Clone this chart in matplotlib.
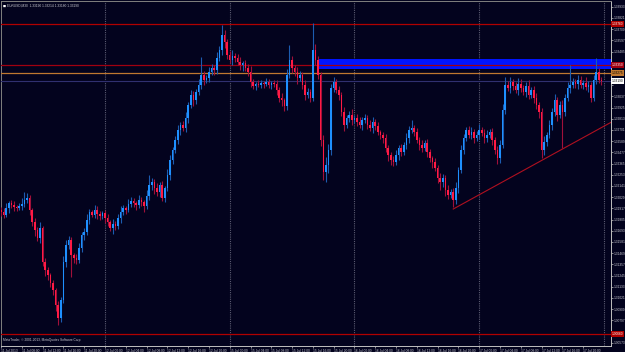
import matplotlib
matplotlib.use("Agg")
import matplotlib.pyplot as plt
import numpy as np

plt.rcParams["font.family"] = ["Liberation Sans", "DejaVu Sans"]

# EURUSD M30 bars (bar 0 = 11 Jul 04:00), close prices
first_open = 1.3190
closes = [
    1.3188, 1.3185, 1.3192, 1.3197, 1.3195, 1.3193, 1.3192, 1.3194, 1.3196, 1.3200,
    1.3202, 1.3190, 1.3178, 1.3170, 1.3162, 1.3172, 1.3138, 1.3130, 1.3125, 1.3117,
    1.3110, 1.3095, 1.3082, 1.3100, 1.3138, 1.3155, 1.3160, 1.3145, 1.3142, 1.3140,
    1.3152, 1.3165, 1.3168, 1.3180, 1.3188, 1.3185, 1.3190, 1.3186, 1.3184, 1.3187,
    1.3182, 1.3178, 1.3172, 1.3176, 1.3174, 1.3182, 1.3188, 1.3192, 1.3190, 1.3196,
    1.3199, 1.3197, 1.3195, 1.3200, 1.3198, 1.3194, 1.3204, 1.3215, 1.3218, 1.3212,
    1.3208, 1.3215, 1.3202, 1.3212, 1.3225, 1.3240, 1.3250, 1.3260, 1.3270, 1.3275,
    1.3272, 1.3282, 1.3295, 1.3305, 1.3300, 1.3308, 1.3315, 1.3325, 1.3320, 1.3322,
    1.3328, 1.3332, 1.3330, 1.3342, 1.3350, 1.3365, 1.3358, 1.3345, 1.3340, 1.3344,
    1.3342, 1.3338, 1.3335, 1.3337, 1.3332, 1.3328, 1.3318, 1.3314, 1.3316, 1.3315,
    1.3317, 1.3316, 1.3318, 1.3315, 1.3317, 1.3316, 1.3310, 1.3302, 1.3300, 1.3294,
    1.3325, 1.3340, 1.3332, 1.3328, 1.3322, 1.3325, 1.3315, 1.3305, 1.3308, 1.3302,
    1.3350, 1.3340, 1.3325, 1.3260, 1.3228, 1.3235, 1.3250, 1.3312, 1.3318, 1.3310,
    1.3305, 1.3288, 1.3275, 1.3282, 1.3285, 1.3280, 1.3282, 1.3278, 1.3275, 1.3280,
    1.3282, 1.3275, 1.3272, 1.3278, 1.3274, 1.3268, 1.3265, 1.3262, 1.3252, 1.3245,
    1.3240, 1.3238, 1.3245, 1.3252, 1.3248, 1.3255, 1.3262, 1.3270, 1.3272, 1.3268,
    1.3260, 1.3255, 1.3252, 1.3257, 1.3248, 1.3242, 1.3238, 1.3232, 1.3222, 1.3218,
    1.3222, 1.3210, 1.3205, 1.3208, 1.3200, 1.3212, 1.3230, 1.3250, 1.3262, 1.3270,
    1.3265, 1.3268, 1.3262, 1.3265, 1.3270, 1.3267, 1.3262, 1.3265, 1.3268, 1.3260,
    1.3250, 1.3242, 1.3255, 1.3290, 1.3315, 1.3312, 1.3318, 1.3314, 1.3310, 1.3316,
    1.3312, 1.3308, 1.3314, 1.3305, 1.3310, 1.3302, 1.3295, 1.3288, 1.3250, 1.3258,
    1.3265, 1.3275, 1.3288, 1.3300, 1.3285, 1.3295, 1.3288, 1.3302, 1.3312, 1.3315,
    1.3318, 1.3316, 1.3320, 1.3315, 1.3317, 1.3313, 1.3315, 1.3302, 1.3320, 1.3328,
    1.3320, 1.3319,
]
# wick lengths in pips above / below the candle body
upper_wick = [
    3, 4, 5, 2, 3, 4, 2, 3, 6, 8,
    5, 3, 2, 4, 3, 6, 2, 4, 3, 2,
    3, 2, 4, 3, 6, 5, 4, 3, 2, 4,
    5, 3, 4, 6, 3, 2, 5, 4, 3, 2,
    3, 4, 2, 5, 3, 4, 6, 3, 2, 5,
    4, 3, 2, 5, 3, 2, 6, 10, 4, 3,
    5, 3, 4, 2, 6, 5, 3, 4, 5, 3,
    4, 6, 3, 5, 4, 3, 6, 18, 4, 3,
    5, 4, 3, 6, 4, 10, 5, 3, 4, 6,
    3, 4, 5, 2, 3, 4, 6, 3, 2, 4,
    3, 2, 4, 3, 2, 3, 4, 3, 5, 2,
    6, 15, 4, 3, 5, 4, 3, 5, 4, 3,
    27, 6, 4, 3, 5, 8, 6, 4, 5, 3,
    4, 3, 5, 3, 4, 6, 3, 4, 5, 3,
    4, 3, 5, 5, 3, 4, 2, 3, 4, 3,
    3, 4, 5, 3, 4, 3, 5, 4, 8, 3,
    4, 3, 5, 3, 4, 3, 2, 4, 3, 5,
    4, 3, 5, 3, 4, 6, 3, 5, 4, 3,
    4, 5, 3, 4, 6, 3, 4, 5, 3, 4,
    3, 4, 5, 6, 8, 4, 5, 3, 4, 6,
    5, 3, 4, 6, 3, 4, 5, 3, 4, 6,
    3, 5, 4, 6, 3, 4, 5, 4, 6, 20,
    4, 3, 5, 4, 3, 6, 4, 3, 5, 14,
    4, 3,
]
lower_wick = [
    4, 3, 2, 5, 3, 4, 3, 2, 4, 3,
    3, 5, 4, 6, 3, 5, 4, 6, 5, 4,
    5, 6, 7, 4, 3, 5, 4, 22, 5, 4,
    3, 4, 5, 3, 4, 2, 3, 5, 4, 3,
    5, 4, 3, 6, 4, 3, 5, 3, 4, 2,
    3, 4, 5, 3, 4, 6, 3, 4, 5, 6,
    4, 5, 3, 4, 3, 5, 4, 3, 4, 5,
    3, 4, 5, 3, 6, 4, 3, 4, 5, 3,
    4, 3, 5, 4, 3, 5, 6, 4, 3, 5,
    4, 3, 5, 6, 3, 4, 5, 3, 4, 2,
    3, 4, 2, 3, 4, 3, 5, 4, 6, 5,
    4, 3, 5, 4, 6, 3, 4, 5, 3, 4,
    3, 5, 4, 6, 8, 10, 8, 5, 4, 3,
    5, 4, 6, 3, 4, 5, 3, 4, 3, 5,
    3, 4, 3, 5, 4, 3, 4, 5, 4, 6,
    5, 4, 3, 5, 4, 3, 4, 5, 3, 4,
    3, 5, 4, 3, 5, 4, 6, 3, 5, 8,
    5, 6, 4, 3, 7, 4, 5, 3, 4, 3,
    3, 4, 5, 3, 4, 3, 5, 4, 3, 5,
    4, 6, 5, 3, 4, 3, 5, 4, 3, 5,
    4, 3, 5, 4, 3, 5, 4, 6, 8, 5,
    4, 3, 5, 4, 6, 3, 36, 4, 3, 5,
    3, 4, 5, 3, 4, 3, 5, 4, 3, 4,
    3, 4,
]

# time axis
day_starts = [40, 88, 136, 184, 232]
time_tick_bars = list(range(0, 225, 8))
time_labels = [
    "11 Jul 2013", "11 Jul 08:00", "11 Jul 12:00", "11 Jul 16:00", "11 Jul 20:00",
    "12 Jul 00:00", "12 Jul 04:00", "12 Jul 08:00", "12 Jul 12:00", "12 Jul 16:00", "12 Jul 20:00",
    "15 Jul 00:00", "15 Jul 04:00", "15 Jul 08:00", "15 Jul 12:00", "15 Jul 16:00", "15 Jul 20:00",
    "16 Jul 00:00", "16 Jul 04:00", "16 Jul 08:00", "16 Jul 12:00", "16 Jul 16:00", "16 Jul 20:00",
    "17 Jul 00:00", "17 Jul 04:00", "17 Jul 08:00", "17 Jul 12:00", "17 Jul 16:00", "17 Jul 20:00",
]
price_ticks = [1.33933 - 0.00112 * k for k in range(31)]

# chart objects
hline_prices = [1.3376, 1.3335, 1.33275, 1.3066]
hline_colors = ["#b00000", "#a00010", "#c07830", "#b00000"]
bid_price = 1.3319
zone_start_bar = 122
zone_low, zone_high = 1.3331, 1.3341
trend_bars = [174, 216]
trend_prices = [1.3191, 1.3251]
title_text = "EURUSD,M30  1.33190 1.33214 1.33180 1.33190"
footer_text = "MetaTrader, \u00a9 2001-2013, MetaQuotes Software Corp."

bg = "#03031e"
txt = "#c8c8d0"
fs = 2.3

opens = [first_open] + closes[:-1]
highs = [max(o, c) + u / 10000 for o, c, u in zip(opens, closes, upper_wick)]
lows = [min(o, c) - d / 10000 for o, c, d in zip(opens, closes, lower_wick)]
x = np.arange(len(closes))
up = np.array(closes) >= np.array(opens)

fig = plt.figure(figsize=(6.25, 3.52), dpi=100, facecolor=bg)
ax = fig.add_axes([0.0016, 0.017, 0.976, 0.980])
ax.set_facecolor(bg)
ax.set_xlim(0.45, 234.7)
ax.set_ylim(1.3054, 1.3399)

# day separators
for d in day_starts:
    ax.axvline(d, color="#5a5a70", lw=0.8, ls=(0, (1, 1)), zorder=1)

# horizontal levels and zone
ax.fill_between([zone_start_bar, 240], zone_low, zone_high, color="#0014ff", lw=0, zorder=2)
for p, c in zip(hline_prices, hline_colors):
    ax.axhline(p, color=c, lw=0.9, zorder=3)
ax.axhline(bid_price, color="#303070", lw=0.8, zorder=3)

# candles
o = np.array(opens)
c = np.array(closes)
ax.vlines(x[up], np.array(lows)[up], np.array(highs)[up], color="#1c5cb0", lw=0.8, zorder=4)
ax.vlines(x[~up], np.array(lows)[~up], np.array(highs)[~up], color="#a0103a", lw=0.8, zorder=4)
body = np.maximum(np.abs(c - o), 0.00006)
ax.bar(x[up], body[up], bottom=np.minimum(o, c)[up], width=0.6, color="#1e90ff", lw=0, zorder=5)
ax.bar(x[~up], body[~up], bottom=np.minimum(o, c)[~up], width=0.6, color="#ff1a44", lw=0, zorder=5)

# trend line (ray to the right)
slope = (trend_prices[1] - trend_prices[0]) / (trend_bars[1] - trend_bars[0])
ax.plot([trend_bars[0], 240], [trend_prices[0], trend_prices[0] + slope * (240 - trend_bars[0])],
        color="#b01020", lw=0.8, zorder=6)

# axes styling
for s in ["left", "top"]:
    ax.spines[s].set_color("#808080")
    ax.spines[s].set_linewidth(0.7)
for s in ["right", "bottom"]:
    ax.spines[s].set_color("#c0c0c0")
    ax.spines[s].set_linewidth(0.7)

# price scale; labels covered by the level boxes are left blank, as in the terminal
box_prices = hline_prices + [bid_price]
ax.yaxis.tick_right()
ax.set_yticks(price_ticks)
ax.set_yticklabels(["" if min(abs(p - b) for b in box_prices) < 0.0005 else "%.5f" % p
                    for p in price_ticks])
ax.tick_params(axis="y", colors="#c0c0c0", length=1.5, width=0.5, labelsize=fs, pad=0.6,
               labelcolor=txt)
ax.set_xticks(time_tick_bars)
ax.set_xticklabels(time_labels, ha="left")
ax.tick_params(axis="x", colors="#c0c0c0", length=1.5, width=0.5, labelsize=fs, pad=0.4,
               labelcolor=txt)

# price labels on the axis
box_colors = hline_colors + ["#ffffff"]
box_text = ["white", "white", "black", "white", "black"]
for p, fc, tc in zip(box_prices, box_colors, box_text):
    ax.text(1.0015, p, "%.5f" % p, transform=ax.get_yaxis_transform(), fontsize=fs,
            color=tc, va="center", ha="left",
            bbox=dict(boxstyle="square,pad=0.3", fc=fc, ec="none"), zorder=10, clip_on=False)

# title and footer
ax.text(0.0035, 0.991, "\u25a0", transform=ax.transAxes, fontsize=fs, color="white",
        va="top", ha="left", family="DejaVu Sans")
ax.text(0.0095, 0.993, title_text, transform=ax.transAxes, fontsize=fs, color=txt,
        va="top", ha="left")
ax.text(0.003, 0.012, footer_text, transform=ax.transAxes, fontsize=fs, color=txt,
        va="bottom", ha="left")

fig.savefig("out.png", dpi=100, facecolor=bg)
